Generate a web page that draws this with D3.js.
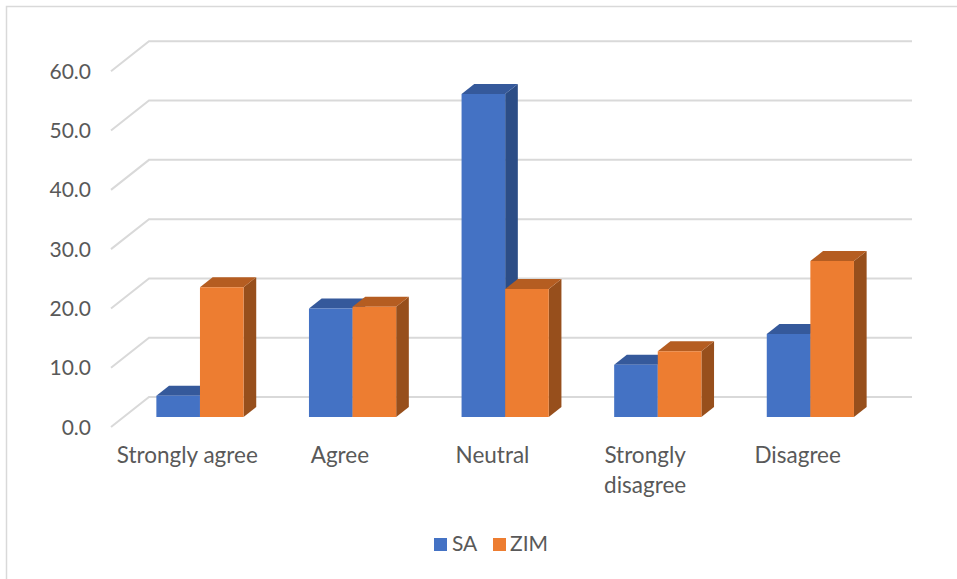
<!DOCTYPE html>
<html>
<head>
<meta charset="utf-8">
<script src="https://cdn.jsdelivr.net/npm/d3@7"></script>
<style>
  html, body { margin: 0; padding: 0; background: #fff; }
  svg { display: block; }
  text { font-family: Lato, "Open Sans", sans-serif; fill: #595959; }
</style>
</head>
<body>
<svg id="chart" width="957" height="579"></svg>
<script>
// Survey responses (percent) for the two countries
const categories = ["Strongly agree", "Agree", "Neutral", "Strongly disagree", "Disagree"];
const categoryLines = [["Strongly agree"], ["Agree"], ["Neutral"], ["Strongly", "disagree"], ["Disagree"]];
const seriesNames = ["SA", "ZIM"];
const saValues = [3.6, 18.3, 54.5, 8.8, 14.0];
const zimValues = [21.9, 18.6, 21.6, 11.1, 26.3];
const yTicks = [0, 10, 20, 30, 40, 50, 60];

const seriesValues = [saValues, zimValues];
const palette = {
  SA:  { front: "#4472c4", top: "#35599b", side: "#2c4d86" },
  ZIM: { front: "#ed7d31", top: "#b55d21", side: "#974f1c" }
};

const svg = d3.select("#chart");

// Outer chart frame
svg.append("rect")
  .attr("x", 6.5).attr("y", 6.5)
  .attr("width", 1000).attr("height", 1000)
  .attr("fill", "none").attr("stroke", "#d9d9d9").attr("stroke-width", 1.5);

// Oblique 3-D projection: front plane + depth vector
const depth = { dx: 38, dy: -30 };
const x = d3.scaleBand().domain(categories).range([111, 874]).padding(0);
const y = d3.scaleLinear().domain([0, 60]).range([427, 71.3]);
const proj = (px, v, d) => [px + d * depth.dx, y(v) + d * depth.dy];

// Gridlines: left side-wall diagonal + back wall horizontal
const grid = svg.append("g").attr("fill", "none")
  .attr("stroke", "#d9d9d9").attr("stroke-width", 2);
yTicks.forEach(t => {
  const a = proj(x.range()[0], t, 0);
  const b = proj(x.range()[0], t, 1);
  const c = proj(x.range()[1], t, 1);
  grid.append("path").attr("d", d3.line()([a, b, c]));
});

// Value axis labels on the front plane
svg.append("g").selectAll("text").data(yTicks).join("text")
  .attr("x", 91).attr("y", d => y(d))
  .attr("dy", "0.36em")
  .attr("text-anchor", "end")
  .style("font-size", "21px")
  .text(d => d3.format(".1f")(d));

// Bars: occupy middle third of the depth, 150% gap width
const barW = x.bandwidth() / 3.5;
const d0 = 1 / 3, d1 = 2 / 3;
const bars = [];
categories.forEach((c, i) => {
  const left = x(c) + (x.bandwidth() - 2 * barW) / 2;
  seriesNames.forEach((s, j) => {
    bars.push({ cat: c, series: s, value: seriesValues[j][i], x0: left + j * barW, x1: left + (j + 1) * barW });
  });
});

const barG = svg.append("g").selectAll("g").data(bars).join("g");
// side face
barG.append("path")
  .attr("fill", d => palette[d.series].side)
  .attr("d", d => d3.line()([
    proj(d.x1, 0, d0), proj(d.x1, 0, d1), proj(d.x1, d.value, d1), proj(d.x1, d.value, d0)
  ]) + "Z");
// top face
barG.append("path")
  .attr("fill", d => palette[d.series].top)
  .attr("d", d => d3.line()([
    proj(d.x0, d.value, d0), proj(d.x0, d.value, d1), proj(d.x1, d.value, d1), proj(d.x1, d.value, d0)
  ]) + "Z");
// front face
barG.append("path")
  .attr("fill", d => palette[d.series].front)
  .attr("d", d => d3.line()([
    proj(d.x0, 0, d0), proj(d.x1, 0, d0), proj(d.x1, d.value, d0), proj(d.x0, d.value, d0)
  ]) + "Z");

// Category labels centred on the front plane bands
const catG = svg.append("g").selectAll("text").data(categories).join("text")
  .attr("x", d => x(d) + x.bandwidth() / 2)
  .attr("y", 463)
  .attr("text-anchor", "middle")
  .style("font-size", "22.5px");
catG.each(function(d, i) {
  d3.select(this).selectAll("tspan").data(categoryLines[i]).join("tspan")
    .attr("x", x(d) + x.bandwidth() / 2)
    .attr("dy", (l, k) => k === 0 ? 0 : 29.5)
    .text(l => l);
});

// Legend
const legendItems = [
  { name: "SA", sx: 434, tx: 452 },
  { name: "ZIM", sx: 493, tx: 510 }
];
const lg = svg.append("g").selectAll("g").data(legendItems).join("g");
lg.append("rect")
  .attr("x", d => d.sx).attr("y", 538)
  .attr("width", 13).attr("height", 13)
  .attr("fill", d => palette[d.name].front);
lg.append("text")
  .attr("x", d => d.tx).attr("y", 551)
  .style("font-size", "21px")
  .text(d => d.name);
</script>
</body>
</html>
